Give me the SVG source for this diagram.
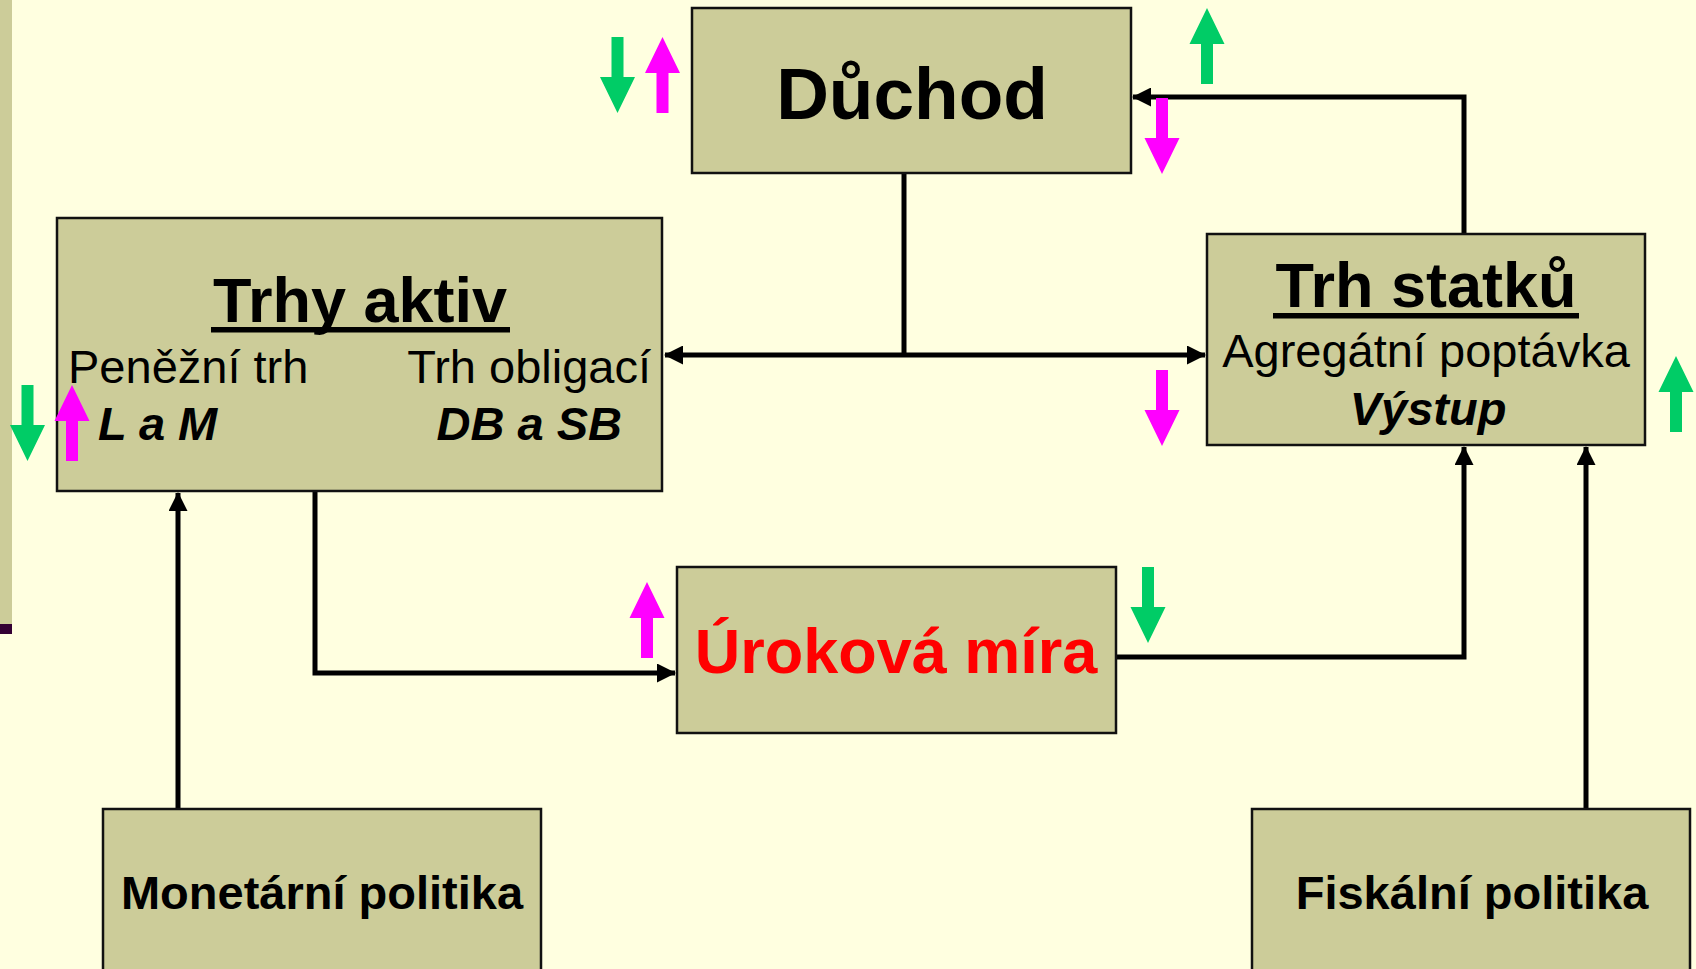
<svg xmlns="http://www.w3.org/2000/svg" width="1696" height="969" viewBox="0 0 1696 969">
<defs>
<style>
.box{fill:#CCCC99;stroke:#111;stroke-width:2.5}
.t{font-family:"Liberation Sans",Arial,sans-serif;fill:#000;text-anchor:middle}
.b{font-weight:bold}
.i{font-style:italic}
.c{fill:none;stroke:#000;stroke-width:5}
.g{fill:#00CC66}
.m{fill:#FF00FF}
</style>
<marker id="ah" viewBox="0 0 19 19" refX="18" refY="9.5" markerWidth="19" markerHeight="19" markerUnits="userSpaceOnUse" orient="auto">
<path d="M0,0 L19,9.5 L0,19 Z" fill="#000"/>
</marker>
<path id="up" d="M0,0 L17.5,36 L6,36 L6,76 L-6,76 L-6,36 L-17.5,36 Z"/>
</defs>
<rect width="1696" height="969" fill="#FFFFE0"/>
<rect x="0" y="0" width="12" height="624" fill="#CCCC99"/>
<rect x="0" y="624" width="12" height="10" fill="#330033"/>

<g id="connectors">
<path class="c" d="M904,173 V355"/>
<path class="c" d="M904,355 H665" marker-end="url(#ah)"/>
<path class="c" d="M904,355 H1205" marker-end="url(#ah)"/>
<path class="c" d="M1464,234 V97 H1133" marker-end="url(#ah)"/>
<path class="c" d="M315,491 V673 H675" marker-end="url(#ah)"/>
<path class="c" d="M1116,657 H1464 V447" marker-end="url(#ah)"/>
<path class="c" d="M178,809 V493" marker-end="url(#ah)"/>
<path class="c" d="M1586,809 V447" marker-end="url(#ah)"/>
</g>

<g id="duchod">
<rect class="box" x="692" y="8" width="439" height="165"/>
<text class="t b" x="912" y="119" font-size="73">Důchod</text>
</g>

<g id="trhy-aktiv">
<rect class="box" x="57" y="218" width="605" height="273"/>
<text class="t b" x="360" y="322" font-size="63">Trhy aktiv</text>
<rect x="211" y="327" width="299" height="5.5" fill="#000"/>
<text class="t" x="68" y="383" font-size="47" style="text-anchor:start">Peněžní trh</text>
<text class="t" x="651" y="383" font-size="47" style="text-anchor:end">Trh obligací</text>
<text class="t b i" x="98" y="440" font-size="47" style="text-anchor:start">L a M</text>
<text class="t b i" x="622" y="440" font-size="47" style="text-anchor:end">DB a SB</text>
</g>

<g id="trh-statku">
<rect class="box" x="1207" y="234" width="438" height="211"/>
<text class="t b" x="1426" y="307" font-size="63">Trh statků</text>
<rect x="1273" y="313" width="306" height="5.5" fill="#000"/>
<text class="t" x="1426" y="367" font-size="47">Agregátní poptávka</text>
<text class="t b i" x="1428" y="425" font-size="47">Výstup</text>
</g>

<g id="urokova-mira">
<rect class="box" x="677" y="567" width="439" height="166"/>
<text class="t b" x="896" y="673" font-size="63" style="fill:#FF0000">Úroková míra</text>
</g>

<g id="monetarni-politika">
<rect class="box" x="103" y="809" width="438" height="170"/>
<text class="t b" x="322" y="909" font-size="47">Monetární politika</text>
</g>

<g id="fiskalni-politika">
<rect class="box" x="1252" y="809" width="438" height="170"/>
<text class="t b" x="1472" y="909" font-size="47">Fiskální politika</text>
</g>

<g id="indicators">
<use href="#up" class="g" transform="translate(617.5,113) rotate(180)"/>
<use href="#up" class="m" transform="translate(662.5,37)"/>
<use href="#up" class="g" transform="translate(1207,8)"/>
<use href="#up" class="m" transform="translate(1162,174) rotate(180)"/>
<use href="#up" class="g" transform="translate(27.5,461) rotate(180)"/>
<use href="#up" class="m" transform="translate(72,385)"/>
<use href="#up" class="m" transform="translate(1162,446) rotate(180)"/>
<use href="#up" class="g" transform="translate(1676,356)"/>
<use href="#up" class="m" transform="translate(647,582)"/>
<use href="#up" class="g" transform="translate(1148,643) rotate(180)"/>
</g>
</svg>
